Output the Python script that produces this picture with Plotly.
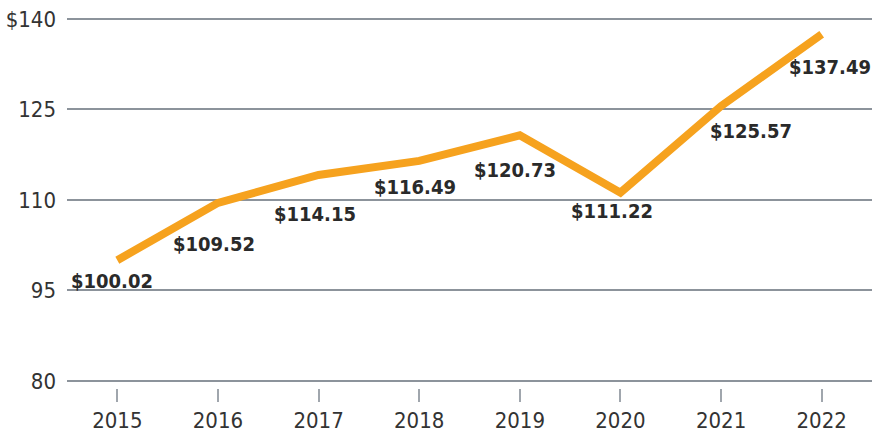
import plotly.graph_objects as go

years = [2015, 2016, 2017, 2018, 2019, 2020, 2021, 2022]
values = [100.02, 109.52, 114.15, 116.49, 120.73, 111.22, 125.57, 137.49]
y_ticks = [80, 95, 110, 125, 140]
y_tick_labels = ["80", "95", "110", "125", "$140"]

# label offsets in px (x, y) relative to the point
label_offsets = [(-5, -21), (-4, -41), (-4, -39), (-4, -26), (-5, -35), (-8, -18), (30, -25), (8, -33)]

FONT = "DejaVu Sans Condensed"
ORANGE = "#F6A21E"
GRID = "#8C939B"

fig = go.Figure()
fig.add_trace(go.Scatter(
    x=years, y=values, mode="lines",
    line=dict(color=ORANGE, width=8),
    hoverinfo="skip",
))

for yr, v, (dx, dy) in zip(years, values, label_offsets):
    fig.add_annotation(
        x=yr, y=v, text=f"<b>${v:.2f}</b>", showarrow=False,
        xshift=dx, yshift=dy,
        font=dict(family=FONT, size=20, color="#2a2a2a"),
    )

fig.update_layout(
    width=872, height=436,
    margin=dict(l=67, r=0, t=16, b=15),
    plot_bgcolor="white", paper_bgcolor="white",
    showlegend=False,
    font=dict(family=FONT, size=22, color="#333333"),
    xaxis=dict(
        range=[2014.5, 2022.5], tickvals=years,
        showgrid=False, showline=False, zeroline=False,
        ticks="outside", ticklen=13, tickwidth=1.5, tickcolor="#A0A6AD",
        anchor="free", position=0.0815,
    ),
    yaxis=dict(
        range=[79.503, 140.497], domain=[0.0914, 1],
        tickvals=y_ticks, ticktext=y_tick_labels,
        showgrid=True, gridcolor=GRID, gridwidth=1.5,
        zeroline=False, showline=False, ticks="",
        ticklabelstandoff=10,
    ),
)

fig.write_html("out.html", config={"displayModeBar": False},
               post_script="document.body.style.margin='0';")
